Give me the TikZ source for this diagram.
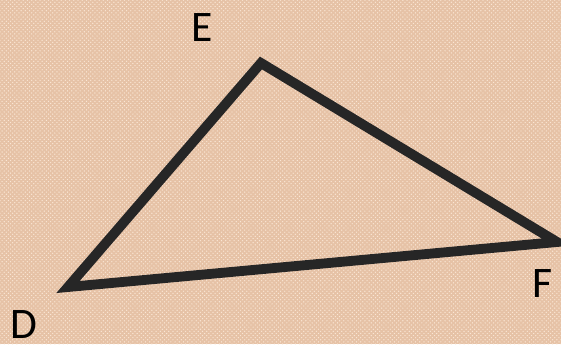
\documentclass[tikz,border=0pt]{standalone}
\usepackage{fontspec}
\setmainfont{Carlito}
\usetikzlibrary{patterns}
\definecolor{canvas}{RGB}{230,194,166}
\definecolor{weave}{RGB}{250,230,212}
\definecolor{edgecol}{RGB}{38,38,38}

\begin{document}
\begin{tikzpicture}[
    x=0.025cm, y=-0.025cm,
    side/.style={
        draw=edgecol,
        line width=7pt,
        line join=miter
    },
    vertex label/.style={
        font=\fontsize{31}{36}\selectfont,
        text=black,
        inner sep=0pt
    }
]
        % background
        \fill[canvas] (0,0) rectangle (561,344);
        \fill[pattern=crosshatch dots, pattern color=weave] (0,0) rectangle (561,344);
        \useasboundingbox (0,0) rectangle (561,344);

        \coordinate (D) at (68,287);
        \coordinate (E) at (261,63);
        \coordinate (F) at (557,242);

        \draw[side] (D) -- (E) -- (F) -- cycle;

        \node[vertex label] (labelE) at (202,28) {E};
        \node[vertex label] (labelD) at (24,325) {D};
        \node[vertex label] (labelF) at (543,284) {F};
\end{tikzpicture}
\end{document}
